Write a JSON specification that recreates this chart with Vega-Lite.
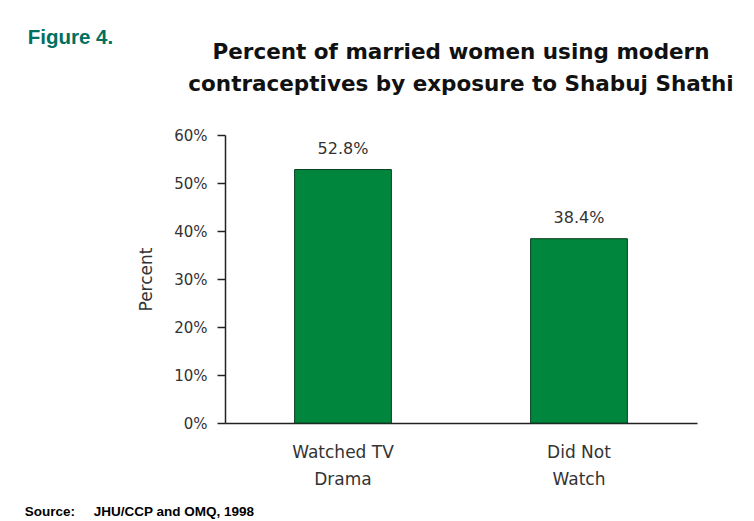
{
  "$schema": "https://vega.github.io/schema/vega-lite/v6.json",
  "background": "white",
  "padding": {"left": 24, "top": 28, "right": 5, "bottom": 5},
  "title": {
    "text": "Source:\u00a0\u00a0\u00a0\u00a0\u00a0JHU/CCP and OMQ, 1998",
    "orient": "bottom",
    "anchor": "start",
    "frame": "bounds",
    "font": "Liberation Sans",
    "fontSize": 13.5,
    "fontWeight": "bold",
    "color": "#000000",
    "dx": -3,
    "offset": 18
  },
  "vconcat": [
    {
      "title": {
        "text": "Figure 4.",
        "anchor": "start",
        "frame": "bounds",
        "font": "Liberation Sans",
        "fontSize": 20.5,
        "fontWeight": "bold",
        "color": "#007060",
        "dx": -110,
        "offset": -7
      },
      "vconcat": [
        {
          "width": 472,
          "height": 288,
          "title": {
            "text": ["Percent of married women using modern", "contraceptives by exposure to Shabuj Shathi"],
            "font": "DejaVu Sans",
            "fontSize": 21.5,
            "fontWeight": "bold",
            "lineHeight": 32,
            "color": "#111111",
            "anchor": "middle",
            "offset": 33
          },
          "data": {
            "values": [
              {"group": "Watched TV|Drama", "pct": 0.528},
              {"group": "Did Not|Watch", "pct": 0.384}
            ]
          },
          "encoding": {
            "x": {
              "field": "group",
              "type": "nominal",
              "sort": null,
              "scale": {"paddingInner": 0.59, "paddingOuter": 0.295},
              "axis": {
                "title": null,
                "labelAngle": 0,
                "ticks": false,
                "domainColor": "#222222",
                "domainWidth": 1.5,
                "labelExpr": "split(datum.value, '|')",
                "labelFont": "DejaVu Sans",
                "labelFontSize": 17,
                "labelLineHeight": 27,
                "labelPadding": 21,
                "labelColor": "#333333"
              }
            },
            "y": {
              "field": "pct",
              "type": "quantitative",
              "scale": {"domain": [0, 0.6]},
              "axis": {
                "values": [0, 0.1, 0.2, 0.3, 0.4, 0.5, 0.6],
                "format": ".0%",
                "grid": false,
                "domainColor": "#222222",
                "domainWidth": 1.5,
                "tickColor": "#222222",
                "tickWidth": 1.5,
                "tickSize": 8,
                "labelPadding": 10,
                "labelFont": "DejaVu Sans",
                "labelFontSize": 15,
                "labelColor": "#333333",
                "title": "Percent",
                "titleFont": "DejaVu Sans",
                "titleFontSize": 17,
                "titleFontWeight": "normal",
                "titleColor": "#333333",
                "titlePadding": 18
              }
            }
          },
          "layer": [
            {"mark": {"type": "bar", "color": "#00873D", "stroke": "#0b3d1e", "strokeWidth": 1}},
            {
              "mark": {"type": "text", "dy": -13, "baseline": "bottom", "font": "DejaVu Sans", "fontSize": 16, "color": "#333333"},
              "encoding": {"text": {"field": "pct", "type": "quantitative", "format": ".1%"}}
            }
          ]
        }
      ]
    }
  ],
  "config": {"view": {"stroke": null}}
}
